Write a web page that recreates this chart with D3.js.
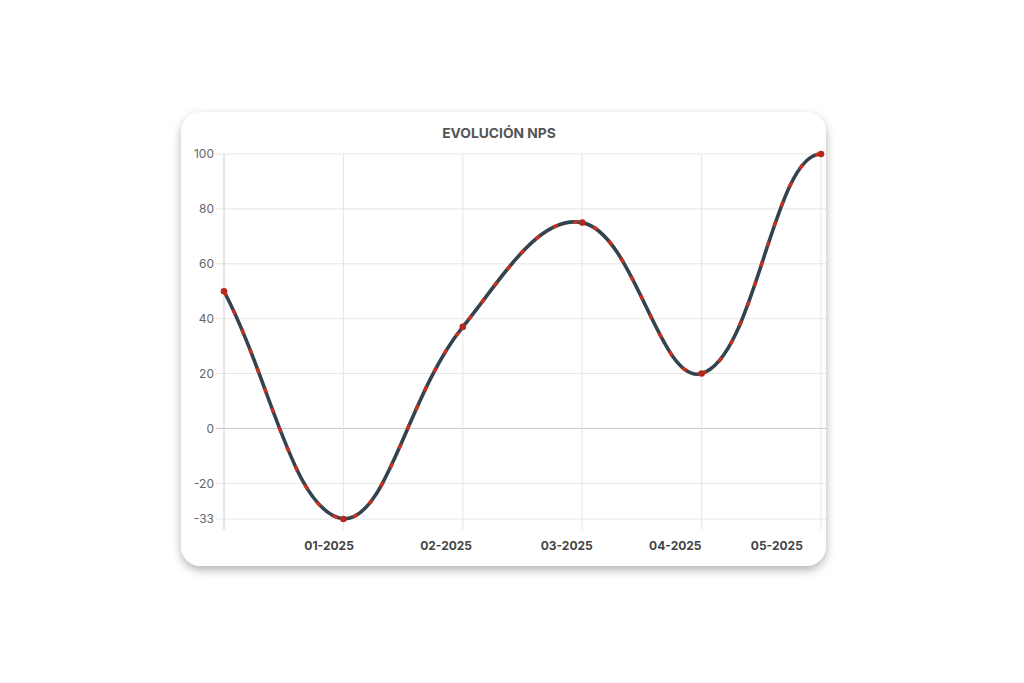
<!DOCTYPE html>
<html><head><meta charset="utf-8">
<script src="https://cdn.jsdelivr.net/npm/d3@7"></script>
<style>
html,body{margin:0;padding:0;background:#fff;}
svg{display:block;font-family:"Inter","Roboto","Liberation Sans",sans-serif;}
</style></head>
<body><svg id="c" width="1024" height="683"></svg>
<script>
const title = "EVOLUCIÓN NPS";
const pointIndex = [0, 1, 2, 3, 4, 5];
const npsValues = [50, -33, 37, 75, 20, 100];
const yTicks = [100, 80, 60, 40, 20, 0, -20, -33];
const xLabels = ["01-2025", "02-2025", "03-2025", "04-2025", "05-2025"];
const xLabelPos = [0.88, 1.86, 2.87, 3.78, 4.63];

const svg = d3.select("#c");
const card = {x: 181, y: 112, w: 645, h: 454};
const plot = {l: 224, r: 821, t: 154, b: 519};

const defs = svg.append("defs");
const f = defs.append("filter").attr("id", "sh").attr("x", "-10%").attr("y", "-10%").attr("width", "120%").attr("height", "125%");
f.append("feDropShadow").attr("dx", 0).attr("dy", 4).attr("stdDeviation", 5).attr("flood-color", "#000").attr("flood-opacity", 0.3);

svg.append("rect").attr("x", card.x).attr("y", card.y).attr("width", card.w).attr("height", card.h)
  .attr("rx", 20).attr("fill", "#fff").attr("filter", "url(#sh)");

const x = d3.scaleLinear().domain([0, 5]).range([plot.l, plot.r]);
const y = d3.scaleLinear().domain([-33, 100]).range([plot.b, plot.t]);

// grid
const g = svg.append("g");
g.selectAll(".hg").data(yTicks).join("line")
  .attr("x1", plot.l - 8).attr("x2", plot.r + 5)
  .attr("y1", d => y(d)).attr("y2", d => y(d))
  .attr("stroke", d => d === 0 ? "#c8c8c8" : "#e6e6e6").attr("stroke-width", 1);
g.selectAll(".vg").data(pointIndex).join("line")
  .attr("x1", d => x(d)).attr("x2", d => x(d))
  .attr("y1", plot.t).attr("y2", plot.b + 11)
  .attr("stroke", d => d === 0 ? "#d0d0d0" : "#e6e6e6").attr("stroke-width", 1);

// y labels
g.selectAll(".yl").data(yTicks).join("text")
  .attr("x", plot.l - 10).attr("y", d => y(d)).attr("dy", "0.35em")
  .attr("text-anchor", "end").attr("font-size", 12).attr("fill", "#666")
  .text(d => d);

// x labels
g.selectAll(".xl").data(xLabels).join("text")
  .attr("x", (d, i) => x(xLabelPos[i])).attr("y", 550)
  .attr("text-anchor", "middle").attr("font-size", 12).attr("font-weight", "bold").attr("fill", "#444")
  .text(d => d);

// title
svg.append("text").attr("x", 499).attr("y", 138).attr("text-anchor", "middle")
  .attr("font-size", 13.8).attr("font-weight", "bold").attr("fill", "#555").text(title);

// Chart.js-like spline with tension 0.4, control points capped to the plot area
const pts = pointIndex.map((d, i) => ({x: x(d), y: y(npsValues[i])}));
const t = 0.4;
const clampY = v => Math.max(plot.t, Math.min(plot.b, v));
const clampX = v => Math.max(plot.l, Math.min(plot.r, v));
pts.forEach((p, i) => {
  const prev = pts[i - 1] || p, next = pts[i + 1] || p;
  const d01 = Math.hypot(p.x - prev.x, p.y - prev.y);
  const d12 = Math.hypot(next.x - p.x, next.y - p.y);
  let s01 = d01 / (d01 + d12), s12 = d12 / (d01 + d12);
  if (isNaN(s01)) s01 = 0; if (isNaN(s12)) s12 = 0;
  const fa = t * s01, fb = t * s12;
  p.cpPx = clampX(p.x - fa * (next.x - prev.x));
  p.cpPy = clampY(p.y - fa * (next.y - prev.y));
  p.cpNx = clampX(p.x + fb * (next.x - prev.x));
  p.cpNy = clampY(p.y + fb * (next.y - prev.y));
  // last point sitting on the top edge: curve eases into it horizontally
  if (i === pts.length - 1 && Math.abs(p.y - plot.t) < 0.5) p.cpPy = p.y;
});
const path = d3.path();
path.moveTo(pts[0].x, pts[0].y);
for (let i = 1; i < pts.length; i++) {
  const a = pts[i - 1], b = pts[i];
  path.bezierCurveTo(a.cpNx, a.cpNy, b.cpPx, b.cpPy, b.x, b.y);
}
const ds = path.toString();
svg.append("path").attr("d", ds).attr("fill", "none").attr("stroke", "#34444f").attr("stroke-width", 3.6).attr("stroke-linecap", "round");
svg.append("path").attr("d", ds).attr("fill", "none").attr("stroke", "#c9301f").attr("stroke-width", 3.4).attr("stroke-dasharray", "5,16");

svg.selectAll(".pt").data(pts).join("circle")
  .attr("cx", d => d.x).attr("cy", d => d.y).attr("r", 3.3).attr("fill", "#b8271c");
</script></body></html>
